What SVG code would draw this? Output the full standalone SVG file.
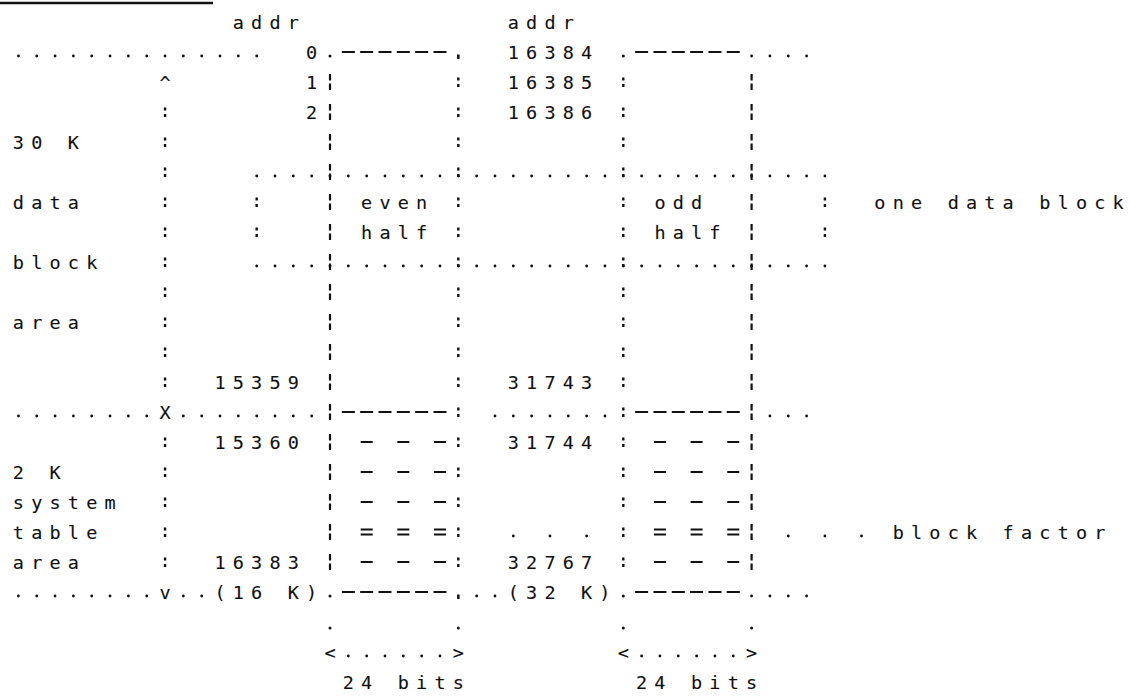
<svg xmlns="http://www.w3.org/2000/svg" width="1130" height="699" viewBox="0 0 1130 699">
<style>
.t{font-family:"DejaVu Sans Mono","Liberation Mono",monospace;font-size:18.5px;letter-spacing:7.19px;fill:#111;stroke:#111;stroke-width:0.12}
.dt{fill:none;stroke:#111;stroke-width:2.8;stroke-linecap:round;stroke-dasharray:0 18.33}
.dt2{fill:none;stroke:#111;stroke-width:2.8;stroke-linecap:round;stroke-dasharray:0 36.66}
.pt{fill:#111}
.ln{stroke:#111;stroke-width:2.2;stroke-dasharray:13 5.33}
.sd{stroke:#111;stroke-width:2.2;stroke-dasharray:12 24.66}
.eq{stroke:#111;stroke-width:1.8;stroke-dasharray:12 24.66}
.co{stroke:#111;stroke-width:2.4;stroke-dasharray:3 3.5 3 20.5}
.br{stroke:#111;stroke-width:2.2;stroke-dasharray:6.5 3 6.5 14}
</style>
<rect width="1130" height="699" fill="#fff"/>

<g id="heading-rule">
<line x1="0" y1="3" x2="213" y2="3" stroke="#111" stroke-width="2.6"/>
</g>

<g id="connectors">
<!-- row 1 -->
<line class="dt" x1="18.4" y1="56" x2="257.2" y2="56"/>
<circle class="pt" cx="330.01" cy="56" r="1.5"/>
<line class="ln" x1="341.84" y1="52" x2="446.49" y2="52"/>
<rect class="pt" x="457.1" y="54.5" width="2.5" height="4.5"/>
<circle class="pt" cx="623.29" cy="56" r="1.5"/>
<line class="ln" x1="635.12" y1="52" x2="739.77" y2="52"/>
<line class="dt" x1="751.6" y1="56" x2="807.1" y2="56"/>
<!-- data block rows -->
<line class="dt" x1="256.69" y1="176" x2="825.4" y2="176"/>
<line class="dt" x1="256.69" y1="266" x2="825.4" y2="266"/>
<!-- row 13 -->
<line class="dt" x1="18.4" y1="416" x2="147.2" y2="416"/>
<line class="dt" x1="183.37" y1="416" x2="312.2" y2="416"/>
<line class="ln" x1="341.84" y1="412" x2="446.49" y2="412"/>
<line class="dt" x1="494.98" y1="416" x2="605.5" y2="416"/>
<line class="ln" x1="635.12" y1="412" x2="739.77" y2="412"/>
<line class="dt" x1="769.93" y1="416" x2="807.1" y2="416"/>
<!-- row 19 -->
<line class="dt" x1="18.4" y1="596" x2="147.2" y2="596"/>
<line class="dt" x1="183.37" y1="596" x2="202.2" y2="596"/>
<circle class="pt" cx="330.01" cy="596" r="1.5"/>
<line class="ln" x1="341.84" y1="592" x2="446.49" y2="592"/>
<rect class="pt" x="457.1" y="594.5" width="2.5" height="4.5"/>
<line class="dt" x1="476.65" y1="596" x2="495.5" y2="596"/>
<circle class="pt" cx="623.29" cy="596" r="1.5"/>
<line class="ln" x1="635.12" y1="592" x2="739.77" y2="592"/>
<line class="dt" x1="751.6" y1="596" x2="807.1" y2="596"/>
<!-- row 20 ticks -->
<circle class="pt" cx="330.01" cy="628" r="1.5"/>
<circle class="pt" cx="458.32" cy="628" r="1.5"/>
<circle class="pt" cx="623.29" cy="628" r="1.5"/>
<circle class="pt" cx="751.6" cy="628" r="1.5"/>
<!-- row 21 width markers -->
<line class="dt" x1="348.34" y1="656" x2="440.5" y2="656"/>
<line class="dt" x1="641.62" y1="656" x2="733.8" y2="656"/>
<!-- verticals -->
<line class="co" x1="165.04" y1="107.5" x2="165.04" y2="387"/>
<line class="co" x1="165.04" y1="437.5" x2="165.04" y2="567"/>
<line class="co" x1="256.69" y1="197.5" x2="256.69" y2="237"/>
<line class="br" x1="330.01" y1="74" x2="330.01" y2="570"/>
<line class="co" x1="458.32" y1="77.5" x2="458.32" y2="567"/>
<line class="co" x1="623.29" y1="77.5" x2="623.29" y2="567"/>
<line class="br" x1="751.6" y1="74" x2="751.6" y2="570"/>
<line class="co" x1="824.92" y1="197.5" x2="824.92" y2="237"/>
</g>

<g id="addr-labels">
<text class="t" x="232.79" y="28.75">addr</text>
<text class="t" x="507.74" y="28.75">addr</text>
</g>

<g id="left-scale">
<text class="t" x="159.47" y="88.75">^</text>
<text class="t" x="12.83" y="148.75">30 K</text>
<text class="t" x="12.83" y="208.75">data</text>
<text class="t" x="12.83" y="268.75">block</text>
<text class="t" x="12.83" y="328.75">area</text>
<text class="t" x="159.47" y="418.75">X</text>
<text class="t" x="12.83" y="478.75">2 K</text>
<text class="t" x="12.83" y="508.75">system</text>
<text class="t" x="12.83" y="538.75">table</text>
<text class="t" x="12.83" y="568.75">area</text>
<text class="t" x="159.47" y="598.75">v</text>
</g>

<g id="even-column">
<text class="t" x="306.11" y="58.75">0</text>
<text class="t" x="306.11" y="88.75">1</text>
<text class="t" x="306.11" y="118.75">2</text>
<text class="t" x="361.1" y="208.75">even</text>
<text class="t" x="361.1" y="238.75">half</text>
<text class="t" x="214.46" y="388.75">15359</text>
<text class="t" x="214.46" y="448.75">15360</text>
<text class="t" x="214.46" y="568.75">16383</text>
<text class="t" x="214.46" y="598.75">(16 K)</text>
<line class="sd" x1="360.67" y1="442" x2="445.99" y2="442"/>
<line class="sd" x1="360.67" y1="472" x2="445.99" y2="472"/>
<line class="sd" x1="360.67" y1="502" x2="445.99" y2="502"/>
<line class="eq" x1="360.67" y1="529.5" x2="445.99" y2="529.5"/>
<line class="eq" x1="360.67" y1="534.5" x2="445.99" y2="534.5"/>
<line class="sd" x1="360.67" y1="562" x2="445.99" y2="562"/>
</g>

<g id="odd-column">
<text class="t" x="507.74" y="58.75">16384</text>
<text class="t" x="507.74" y="88.75">16385</text>
<text class="t" x="507.74" y="118.75">16386</text>
<text class="t" x="654.38" y="208.75">odd</text>
<text class="t" x="654.38" y="238.75">half</text>
<text class="t" x="507.74" y="388.75">31743</text>
<text class="t" x="507.74" y="448.75">31744</text>
<text class="t" x="507.74" y="568.75">32767</text>
<text class="t" x="507.74" y="598.75">(32 K)</text>
<line class="sd" x1="653.95" y1="442" x2="739.27" y2="442"/>
<line class="sd" x1="653.95" y1="472" x2="739.27" y2="472"/>
<line class="sd" x1="653.95" y1="502" x2="739.27" y2="502"/>
<line class="eq" x1="653.95" y1="529.5" x2="739.27" y2="529.5"/>
<line class="eq" x1="653.95" y1="534.5" x2="739.27" y2="534.5"/>
<line class="sd" x1="653.95" y1="562" x2="739.27" y2="562"/>
</g>

<g id="data-block-label">
<text class="t" x="874.34" y="208.75">one data block</text>
</g>

<g id="block-factor">
<line class="dt2" x1="513.31" y1="536" x2="587.2" y2="536"/>
<line class="dt2" x1="788.26" y1="536" x2="862.2" y2="536"/>
<text class="t" x="892.67" y="538.75">block factor</text>
</g>

<g id="word-width">
<text class="t" x="324.44" y="658.75">&lt;</text>
<text class="t" x="452.75" y="658.75">&gt;</text>
<text class="t" x="617.72" y="658.75">&lt;</text>
<text class="t" x="746.03" y="658.75">&gt;</text>
<text class="t" x="342.77" y="688.75">24 bits</text>
<text class="t" x="636.05" y="688.75">24 bits</text>
</g>
</svg>
